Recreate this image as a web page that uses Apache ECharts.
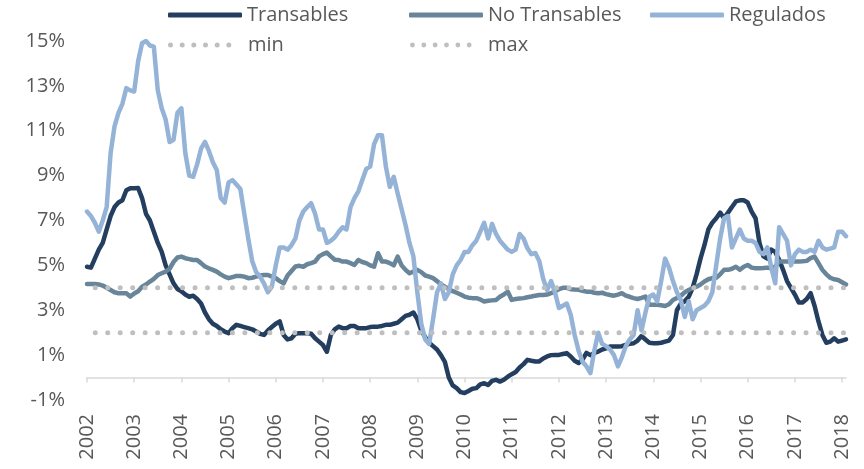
<!DOCTYPE html>
<html>
<head>
<meta charset="utf-8">
<script src="https://cdn.jsdelivr.net/npm/echarts@6/dist/echarts.min.js"></script>
<style>
  html, body { margin: 0; padding: 0; background: #fff; }
  #chart { width: 864px; height: 469px; }
</style>
</head>
<body>
<div id="chart"></div>
<script>
// años del eje X (una etiqueta por año)
const years = ['2002', '2003', '2004', '2005', '2006', '2007', '2008', '2009', '2010',
  '2011', '2012', '2013', '2014', '2015', '2016', '2017', '2018'];

// inflación anual (%), datos mensuales ene-2002 .. feb-2018
const transables = [
  4.94, 4.9, 5.3, 5.7, 6.0, 6.6, 7.2, 7.6, 7.8, 7.9, 8.35, 8.44,
  8.44, 8.45, 8.0, 7.3, 7.0, 6.5, 6.0, 5.6, 5.0, 4.6, 4.2, 3.95,
  3.85, 3.7, 3.6, 3.65, 3.5, 3.3, 2.9, 2.6, 2.4, 2.3, 2.15, 2.05,
  1.98, 2.2, 2.35, 2.3, 2.25, 2.2, 2.15, 2.05, 1.95, 1.9, 2.1, 2.25,
  2.4, 2.5, 1.9, 1.7, 1.75, 1.95, 1.98, 1.98, 1.98, 1.95, 1.75, 1.6,
  1.45, 1.15, 1.9, 2.15, 2.27, 2.2, 2.2, 2.3, 2.3, 2.2, 2.2, 2.2,
  2.25, 2.27, 2.27, 2.3, 2.35, 2.35, 2.4, 2.45, 2.6, 2.75, 2.8, 2.9,
  2.6, 2.1, 1.8, 1.55, 1.4, 1.25, 1.0, 0.7, 0.0, -0.35, -0.47, -0.65,
  -0.69, -0.6, -0.5, -0.47, -0.3, -0.25, -0.33, -0.15, -0.1, -0.18, -0.1, 0.04,
  0.15, 0.25, 0.45, 0.6, 0.79, 0.75, 0.72, 0.72, 0.85, 0.94, 1.0, 1.01,
  1.01, 1.05, 1.09, 0.94, 0.75, 0.65, 0.8, 1.1, 1.0, 1.1, 1.16, 1.25,
  1.3, 1.38, 1.38, 1.38, 1.4, 1.46, 1.5, 1.53, 1.65, 1.85, 1.7, 1.55,
  1.53, 1.53, 1.55, 1.6, 1.65, 1.9, 3.0, 3.3, 3.4, 3.6, 4.0, 4.6,
  5.3, 5.9, 6.6, 6.9, 7.1, 7.35, 7.1, 7.35, 7.6, 7.85, 7.9, 7.9,
  7.8, 7.4, 7.1, 6.0, 5.4, 5.3, 5.7, 5.6, 5.25, 4.8, 4.3, 4.0,
  3.7, 3.35, 3.35, 3.5, 3.76, 3.2, 2.5, 1.9, 1.55, 1.6, 1.75, 1.6,
  1.65, 1.7
];

const noTransables = [
  4.17, 4.17, 4.17, 4.15, 4.1, 4.0, 3.9, 3.8, 3.76, 3.76, 3.76, 3.61,
  3.75, 3.85, 4.05, 4.15, 4.28, 4.4, 4.57, 4.65, 4.72, 4.85, 5.15, 5.35,
  5.39, 5.32, 5.28, 5.24, 5.24, 5.1, 4.95, 4.87, 4.8, 4.72, 4.6, 4.5,
  4.43, 4.48, 4.53, 4.53, 4.5, 4.43, 4.45, 4.5, 4.55, 4.57, 4.57, 4.5,
  4.43, 4.3, 4.2, 4.55, 4.75, 4.95, 4.98, 4.94, 5.05, 5.1, 5.17, 5.4,
  5.5, 5.57, 5.4, 5.25, 5.24, 5.17, 5.17, 5.1, 5.02, 5.24, 5.15, 5.1,
  5.0, 4.94, 5.54, 5.17, 5.17, 5.1, 5.0, 5.39, 5.0, 4.8, 4.65, 4.72,
  4.8, 4.7, 4.55, 4.5, 4.43, 4.3, 4.15, 4.05, 3.95, 3.85, 3.78, 3.7,
  3.61, 3.56, 3.54, 3.54, 3.48, 3.39, 3.42, 3.44, 3.46, 3.6, 3.7, 3.83,
  3.46, 3.5, 3.52, 3.54, 3.58, 3.61, 3.65, 3.68, 3.68, 3.7, 3.76, 3.85,
  3.94, 4.0, 4.0, 3.94, 3.92, 3.91, 3.87, 3.83, 3.83, 3.78, 3.76, 3.78,
  3.72, 3.68, 3.65, 3.7, 3.76, 3.65, 3.6, 3.54, 3.5, 3.55, 3.61, 3.25,
  3.24, 3.24, 3.22, 3.19, 3.27, 3.46, 3.55, 3.65, 3.8, 3.9, 3.98, 4.05,
  4.15, 4.28, 4.38, 4.43, 4.45, 4.6, 4.8, 4.8, 4.85, 4.94, 4.8, 4.94,
  5.02, 4.9, 4.87, 4.87, 4.88, 4.9, 4.87, 4.95, 5.17, 5.17, 5.17, 5.17,
  5.17, 5.17, 5.18, 5.2, 5.32, 5.39, 5.1, 4.8, 4.6, 4.45, 4.38, 4.35,
  4.25, 4.15
];

const regulados = [
  7.4, 7.2, 6.9, 6.5, 7.0, 7.6, 10.0, 11.2, 11.8, 12.2, 12.9, 12.8,
  12.75, 14.1, 14.9, 15.0, 14.8, 14.75, 12.8, 12.0, 11.5, 10.5, 10.6, 11.8,
  12.0, 10.0, 9.0, 8.95, 9.5, 10.2, 10.5, 10.1, 9.6, 9.25, 8.0, 7.8,
  8.7, 8.8, 8.6, 8.4, 7.3, 6.2, 5.2, 4.7, 4.5, 4.2, 3.8, 4.05,
  5.0, 5.8, 5.8, 5.7, 5.9, 6.2, 7.0, 7.4, 7.6, 7.77, 7.3, 6.6,
  6.6, 6.0, 6.1, 6.25, 6.5, 6.7, 6.6, 7.6, 8.0, 8.3, 8.8, 9.3,
  9.4, 10.4, 10.8, 10.8, 9.4, 8.5, 8.95, 8.2, 7.5, 6.8, 6.0, 5.4,
  3.8, 2.4, 1.7, 1.5, 2.6, 3.8, 4.2, 3.5, 3.8, 4.6, 5.0, 5.24,
  5.6, 5.6, 5.9, 6.1, 6.5, 6.9, 6.2, 6.85, 6.4, 6.1, 5.9, 5.7,
  5.6, 5.7, 6.4, 6.2, 5.76, 5.5, 5.55, 5.2, 4.4, 3.9, 4.3, 3.8,
  3.1, 3.2, 3.3, 2.8, 1.9, 1.2, 0.7, 0.5, 0.2, 1.2, 2.0, 1.5,
  1.4, 1.25, 1.0, 0.5, 0.9, 1.4, 1.7, 1.9, 3.0, 2.1, 2.9, 3.6,
  3.7, 3.4, 4.3, 5.3, 4.9, 4.3, 3.8, 3.45, 2.7, 3.4, 2.6, 3.0,
  3.1, 3.2, 3.4, 3.8, 5.0, 6.2, 7.1, 7.2, 5.8, 6.2, 6.6, 6.2,
  6.1, 6.1, 6.0, 5.6, 5.5, 5.8, 4.9, 4.2, 6.7, 6.4, 6.1, 5.0,
  5.5, 5.7, 5.6, 5.6, 5.7, 5.6, 6.1, 5.8, 5.7, 5.75, 5.8, 6.5,
  6.5, 6.3
];

// rango meta de inflación
const minTarget = 2;
const maxTarget = 4;

// categorías mensuales "AAAA-MM"
const months = [];
years.forEach(y => {
  for (let m = 1; m <= 12; m++) {
    if (months.length < transables.length) months.push(y + '-' + String(m).padStart(2, '0'));
  }
});

const font = 'Open Sans';
const textColor = '#595959';
const colors = {
  transables: '#243E60',
  noTransables: '#688599',
  regulados: '#95B3D7',
  dots: '#BFBFBF'
};

// seis puntos para la leyenda de min / max (el punto final solo ensancha la caja)
const dotsIcon = 'path://M0,2.5a2.5,2.5 0 1,0 5,0a2.5,2.5 0 1,0 -5,0Z' +
  'M11.7,2.5a2.5,2.5 0 1,0 5,0a2.5,2.5 0 1,0 -5,0Z' +
  'M23.3,2.5a2.5,2.5 0 1,0 5,0a2.5,2.5 0 1,0 -5,0Z' +
  'M35,2.5a2.5,2.5 0 1,0 5,0a2.5,2.5 0 1,0 -5,0Z' +
  'M46.7,2.5a2.5,2.5 0 1,0 5,0a2.5,2.5 0 1,0 -5,0Z' +
  'M58.3,2.5a2.5,2.5 0 1,0 5,0a2.5,2.5 0 1,0 -5,0Z M75,0 M75,5';

const legendItem = (name, left, top, icon, width) => ({
  data: [name],
  left: left,
  top: top,
  padding: 0,
  icon: icon,
  itemWidth: width,
  itemHeight: 5,
  itemGap: 0,
  selectedMode: false,
  textStyle: { fontFamily: font, fontSize: 20, color: textColor, lineHeight: 24 }
});

const yearTick = (index) => index % 12 === 0;

const lineSeries = (name, data, color) => ({
  name: name,
  type: 'line',
  data: data,
  xAxisIndex: 0,
  symbol: 'none',
  color: color,
  itemStyle: { color: color },
  lineStyle: { color: color, width: 4.5, cap: 'round', join: 'round' }
});

const dotSeries = (name, value) => ({
  name: name,
  type: 'line',
  data: [[0, value], [months.length - 1, value]],
  xAxisIndex: 0,
  symbol: 'none',
  color: colors.dots,
  itemStyle: { color: colors.dots },
  lineStyle: { color: colors.dots, width: 5, type: [0, 12.47], dashOffset: 4.2, cap: 'round' }
});

const chart = echarts.init(document.getElementById('chart'));

chart.setOption({
  animation: false,
  backgroundColor: '#fff',
  grid: { left: 87, right: 18, top: 41, bottom: 69, containLabel: false },
  legend: [
    legendItem('Transables', 168, 3, 'roundRect', 74),
    legendItem('No Transables', 409, 3, 'roundRect', 74),
    legendItem('Regulados', 650, 3, 'roundRect', 74),
    legendItem('min', 168, 33, dotsIcon, 75),
    legendItem('max', 410, 33, dotsIcon, 73)
  ],
  xAxis: [
    {
      // línea del eje en 0% con marcas anuales
      type: 'category',
      data: months,
      boundaryGap: false,
      axisLine: { show: true, onZero: true, lineStyle: { color: '#D9D9D9', width: 1.5 } },
      axisTick: { show: true, interval: yearTick, length: 5, lineStyle: { color: '#D9D9D9', width: 1.5 } },
      axisLabel: { show: false },
      splitLine: { show: false }
    },
    {
      // etiquetas de año abajo
      type: 'category',
      data: months,
      boundaryGap: false,
      position: 'bottom',
      axisLine: { show: false, onZero: false },
      axisTick: { show: false },
      splitLine: { show: false },
      axisLabel: {
        interval: yearTick,
        rotate: 90,
        margin: 14,
        fontFamily: font,
        fontSize: 20,
        color: textColor,
        formatter: (value) => value.slice(0, 4)
      }
    }
  ],
  yAxis: {
    type: 'value',
    min: -1,
    max: 15,
    interval: 2,
    axisLine: { show: false },
    axisTick: { show: false },
    splitLine: { show: false },
    axisLabel: {
      formatter: '{value}%',
      margin: 22,
      fontFamily: font,
      fontSize: 20,
      color: textColor
    }
  },
  series: [
    lineSeries('Transables', transables, colors.transables),
    lineSeries('No Transables', noTransables, colors.noTransables),
    lineSeries('Regulados', regulados, colors.regulados),
    dotSeries('min', minTarget),
    dotSeries('max', maxTarget)
  ]
});
</script>
</body>
</html>
